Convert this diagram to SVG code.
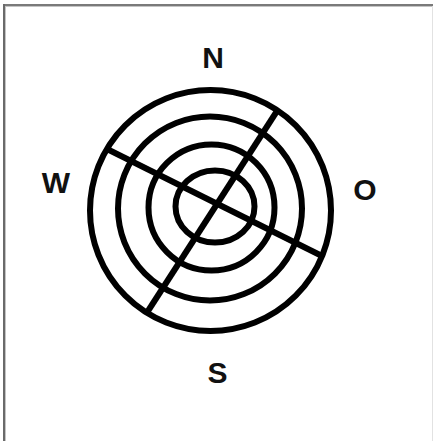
<svg xmlns="http://www.w3.org/2000/svg" width="433" height="441" viewBox="0 0 433 441">
  <style>
    .ring { fill: none; stroke: #000; stroke-width: 6; }
    .axis { stroke: #000; stroke-width: 6; stroke-linecap: butt; }
    .lbl { font-family: "Liberation Sans", Arial, sans-serif; font-weight: bold; font-size: 30px; fill: #111; text-anchor: middle; }
  </style>
  <rect x="0" y="0" width="433" height="441" fill="#fff"/>
  <g id="frame">
    <rect x="3" y="4" width="430" height="2" fill="#7a7a7a"/>
    <rect x="5" y="6" width="428" height="1" fill="#c4c4c4"/>
    <rect x="3" y="4" width="2" height="437" fill="#6a6a6a"/>
    <rect x="5" y="6" width="1" height="435" fill="#c4c4c4"/>
    <rect x="432" y="6" width="1" height="435" fill="#e2e2e2"/>
  </g>
  <g id="rose">
    <circle class="ring" cx="210.5" cy="210.5" r="120.5"/>
    <circle class="ring" cx="210" cy="208.5" r="92"/>
    <circle class="ring" cx="211.5" cy="207.5" r="63"/>
    <ellipse class="ring" cx="215" cy="206.5" rx="39.5" ry="36"/>
  </g>
  <g id="connectors">
    <line class="axis" x1="109" y1="150" x2="322" y2="256"/>
    <line class="axis" x1="277" y1="111" x2="148" y2="311"/>
  </g>
  <g id="label-N"><text class="lbl" x="213" y="68">N</text></g>
  <g id="label-W"><text class="lbl" x="56" y="193">W</text></g>
  <g id="label-O"><text class="lbl" x="365" y="200">O</text></g>
  <g id="label-S"><text class="lbl" x="217.5" y="383">S</text></g>
</svg>
